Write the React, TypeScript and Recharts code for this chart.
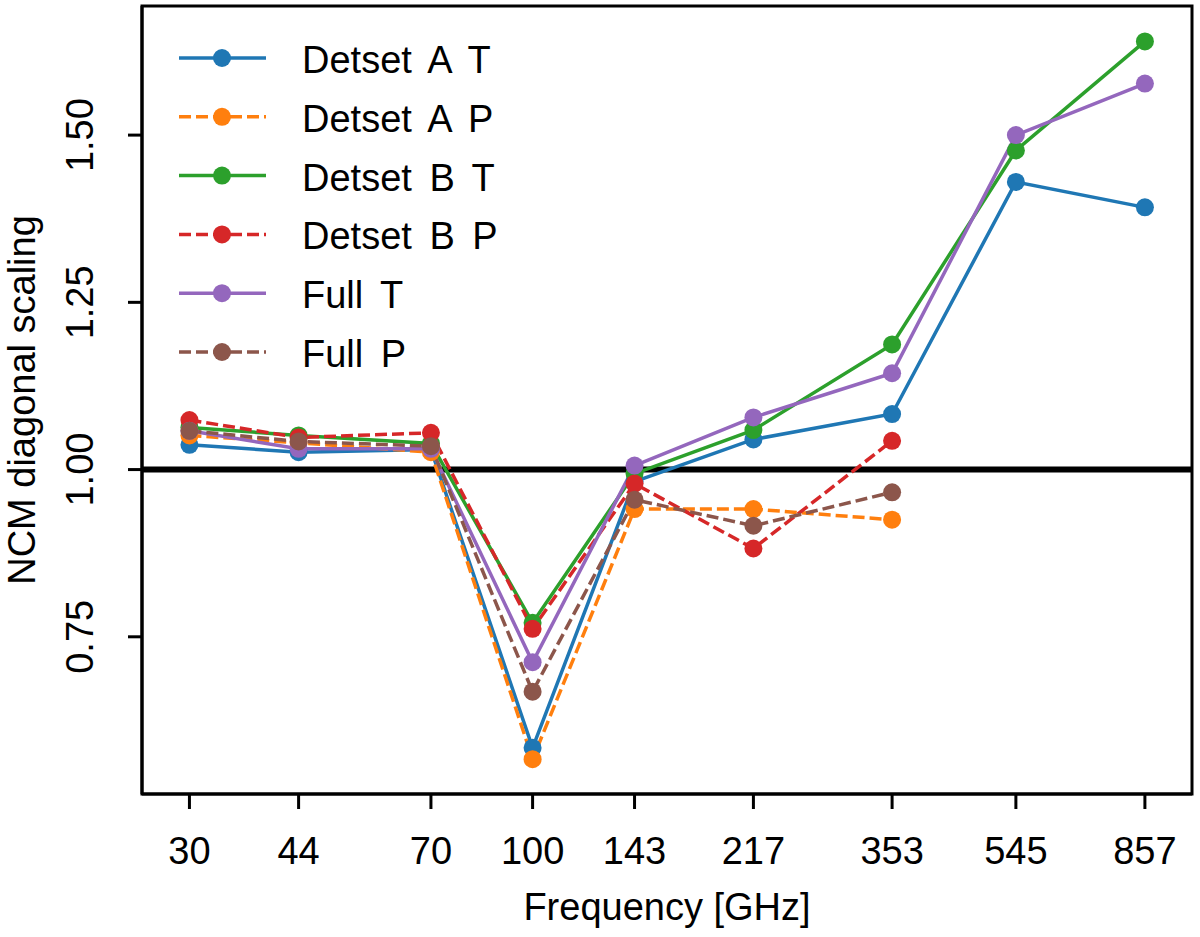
import { LineChart, Line, XAxis, YAxis, ReferenceLine, ReferenceArea, Legend, Label } from "recharts";

const FREQS = [30, 44, 70, 100, 143, 217, 353, 545, 857];
const Y_TICKS = [0.75, 1.0, 1.25, 1.5];

// T series go all the way to 857, P series stop at 353
const DETSET_A_T = [1.037, 1.026, 1.03, 0.584, 0.982, 1.045, 1.083, 1.43, 1.392];
const DETSET_A_P = [1.051, 1.04, 1.026, 0.567, 0.941, 0.941, 0.925];
const DETSET_B_T = [1.063, 1.051, 1.039, 0.771, 0.994, 1.059, 1.187, 1.477, 1.64];
const DETSET_B_P = [1.074, 1.048, 1.055, 0.762, 0.979, 0.882, 1.043];
const FULL_T = [1.058, 1.031, 1.031, 0.712, 1.006, 1.078, 1.144, 1.5, 1.577];
const FULL_P = [1.058, 1.042, 1.035, 0.668, 0.955, 0.916, 0.966];

const X_DOMAIN = [25.4, 1011];
const Y_DOMAIN = [0.515, 1.693];

const FONT = "'Liberation Sans', Arial, sans-serif";

const series = [
  { key: "detAT", name: "Detset A T", color: "#1f77b4", dashed: false, values: DETSET_A_T },
  { key: "detAP", name: "Detset A P", color: "#ff7f0e", dashed: true, values: DETSET_A_P },
  { key: "detBT", name: "Detset B T", color: "#2ca02c", dashed: false, values: DETSET_B_T },
  { key: "detBP", name: "Detset B P", color: "#d62728", dashed: true, values: DETSET_B_P },
  { key: "fullT", name: "Full T", color: "#9467bd", dashed: false, values: FULL_T },
  { key: "fullP", name: "Full P", color: "#8c564b", dashed: true, values: FULL_P },
];

const data = FREQS.map((freq, i) => {
  const row: Record<string, number | null> = { freq };
  series.forEach((s) => {
    row[s.key] = s.values[i] ?? null;
  });
  return row;
});

const DASH = "12 5";

const XTick = ({ x, y, payload }: any) => (
  <text x={x} y={y + 53} textAnchor="middle" fontSize={38} fontFamily={FONT} fill="#000">
    {payload.value}
  </text>
);

const YTick = ({ x, y, payload }: any) => (
  <text
    x={x - 33}
    y={y}
    transform={`rotate(-90, ${x - 33}, ${y})`}
    textAnchor="middle"
    fontSize={38}
    fontFamily={FONT}
    fill="#000"
  >
    {Number(payload.value).toFixed(2)}
  </text>
);

const renderLegend = () => (
  <svg width={560} height={390}>
    {series.map((s, i) => {
      const cy = 58 + i * 58.8;
      return (
        <g key={s.key}>
          <line
            x1={179}
            x2={266}
            y1={cy}
            y2={cy}
            stroke={s.color}
            strokeWidth={3.5}
            strokeDasharray={s.dashed ? DASH : undefined}
          />
          <circle cx={222} cy={cy} r={9} fill={s.color} />
          <text
            x={302}
            y={cy + 15}
            fontSize={38}
            fontFamily={FONT}
            fill="#000"
            style={{ wordSpacing: "7px" }}
          >
            {s.name}
          </text>
        </g>
      );
    })}
  </svg>
);

export default function App() {
  return (
    <div style={{ position: "absolute", left: 0, top: 0, width: 1200, height: 937, background: "#fff" }}>
      <LineChart width={1200} height={937} data={data} margin={{ top: 6, right: 8, bottom: 0, left: 0 }}>
        <XAxis
          dataKey="freq"
          type="number"
          scale="log"
          domain={X_DOMAIN}
          ticks={FREQS}
          interval={0}
          allowDataOverflow
          height={143}
          tickSize={15}
          tickMargin={2}
          tick={<XTick />}
          axisLine={{ stroke: "#000", strokeWidth: 3 }}
          tickLine={{ stroke: "#000", strokeWidth: 3 }}
        >
          <Label
            content={() => (
              <text x={667} y={920} textAnchor="middle" fontSize={38} fontFamily={FONT} fill="#000">
                Frequency [GHz]
              </text>
            )}
          />
        </XAxis>
        <YAxis
          type="number"
          domain={Y_DOMAIN}
          ticks={Y_TICKS}
          interval={0}
          allowDataOverflow
          width={142}
          tickSize={14}
          tickMargin={2}
          tick={<YTick />}
          axisLine={{ stroke: "#000", strokeWidth: 3 }}
          tickLine={{ stroke: "#000", strokeWidth: 3 }}
        >
          <Label
            content={() => (
              <text
                x={35}
                y={400}
                transform="rotate(-90, 35, 400)"
                textAnchor="middle"
                fontSize={38}
                fontFamily={FONT}
                fill="#000"
              >
                NCM diagonal scaling
              </text>
            )}
          />
        </YAxis>
        <ReferenceArea
          x1={X_DOMAIN[0]}
          x2={X_DOMAIN[1]}
          y1={Y_DOMAIN[0]}
          y2={Y_DOMAIN[1]}
          fill="none"
          fillOpacity={0}
          stroke="#000"
          strokeWidth={3}
          ifOverflow="visible"
        />
        <ReferenceLine y={1} stroke="#000" strokeWidth={6} />
        {series.map((s) => (
          <Line
            key={s.key}
            dataKey={s.key}
            name={s.name}
            type="linear"
            stroke={s.color}
            strokeWidth={3.5}
            strokeDasharray={s.dashed ? DASH : undefined}
            dot={{ r: 9, fill: s.color, stroke: "none" }}
            activeDot={false}
            isAnimationActive={false}
          />
        ))}
        <Legend
          layout="vertical"
          align="center"
          verticalAlign="middle"
          content={renderLegend}
          wrapperStyle={{ left: 0, top: 0, width: 560, height: 390 }}
        />
      </LineChart>
    </div>
  );
}
